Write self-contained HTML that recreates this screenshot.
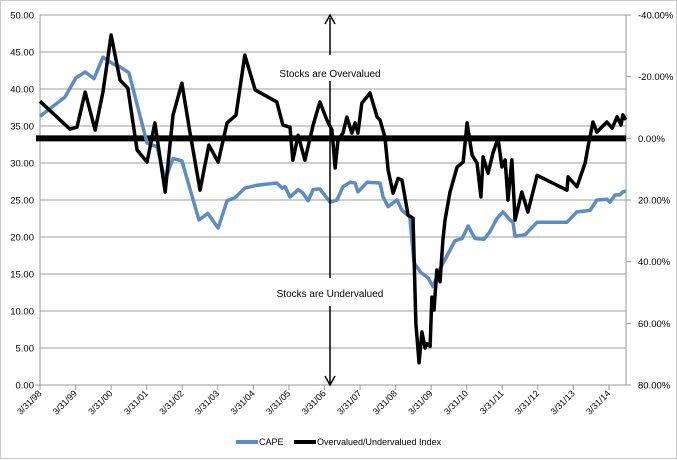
<!DOCTYPE html>
<html><head><meta charset="utf-8"><style>
body{margin:0;background:#fff;}
svg{display:block;font-family:"Liberation Sans",sans-serif;}
</style></head><body>
<svg id="chart" width="677" height="460" viewBox="0 0 677 460" xmlns="http://www.w3.org/2000/svg">
<rect x="0.5" y="0.5" width="676" height="458" fill="#fff" stroke="#c8c8c8" stroke-width="1"/>
<g id="grid"></g>
<g id="axes"></g>
<g id="series"></g>
<g>
<line x1="330" y1="55" x2="330" y2="18" stroke="#000" stroke-width="1.5"/>
<path d="M325,24 L330,15 L335,24" fill="none" stroke="#000" stroke-width="1.5"/>
<text x="330" y="77" font-size="10" text-anchor="middle">Stocks are Overvalued</text>
<line x1="330" y1="81" x2="330" y2="278" stroke="#000" stroke-width="1.5"/>
<text x="330" y="297" font-size="10" text-anchor="middle">Stocks are Undervalued</text>
<line x1="330" y1="306" x2="330" y2="383" stroke="#000" stroke-width="1.5"/>
<path d="M325,376 L330,385 L335,376" fill="none" stroke="#000" stroke-width="1.5"/>
</g>
<g>
<line x1="236" y1="442" x2="258" y2="442" stroke="#5b8cc4" stroke-width="4"/>
<text x="259" y="445" font-size="9">CAPE</text>
<line x1="294" y1="442" x2="316" y2="442" stroke="#000" stroke-width="4"/>
<text x="317" y="445" font-size="9">Overvalued/Undervalued Index</text>
</g>
</svg>
<script>
const capeDates=[1998.25,1998.95,1999.26,1999.52,1999.77,2000.02,2000.30,2000.50,2000.75,2001.26,2001.54,2001.77,2001.99,2002.24,2002.72,2002.97,2003.26,2003.51,2003.73,2004.01,2004.35,2004.91,2005.06,2005.14,2005.28,2005.51,2005.65,2005.79,2005.93,2006.12,2006.41,2006.60,2006.77,2006.97,2007.11,2007.19,2007.45,2007.81,2007.90,2008.04,2008.29,2008.43,2008.65,2008.71,2008.77,2008.96,2009.16,2009.30,2009.50,2009.70,2009.92,2010.12,2010.29,2010.48,2010.74,2010.90,2011.10,2011.27,2011.47,2011.55,2011.61,2011.89,2012.23,2013.07,2013.35,2013.72,2013.91,2014.19,2014.28,2014.42,2014.56,2014.64,2014.73];
const capeValues=[36.3,38.9,41.5,42.3,41.4,44.3,43.4,43.0,42.2,32.7,32.2,27.7,30.6,30.3,22.3,23.2,21.2,24.9,25.3,26.6,27.0,27.3,26.6,26.8,25.4,26.4,25.9,24.9,26.4,26.5,24.7,25.0,26.8,27.4,27.3,26.1,27.4,27.3,25.4,24.1,25.0,23.6,22.7,19.5,16.5,15.2,14.5,13.3,15.7,17.5,19.5,19.8,21.5,19.8,19.7,20.7,22.5,23.4,22.3,22.0,20.1,20.3,22.0,22.0,23.4,23.6,25.0,25.1,24.7,25.7,25.7,26.1,26.2];
const indexDates=[1998.25,1999.09,1999.29,1999.52,1999.80,2000.02,2000.25,2000.50,2000.72,2000.98,2001.26,2001.48,2001.77,2001.99,2002.24,2002.47,2002.75,2003.00,2003.26,2003.51,2003.76,2004.01,2004.30,2004.91,2005.08,2005.28,2005.36,2005.51,2005.70,2005.93,2006.12,2006.32,2006.46,2006.55,2006.63,2006.77,2006.88,2007.02,2007.11,2007.19,2007.30,2007.53,2007.73,2007.81,2007.95,2008.04,2008.18,2008.32,2008.43,2008.60,2008.74,2008.82,2008.91,2008.99,2009.08,2009.13,2009.22,2009.27,2009.33,2009.41,2009.50,2009.58,2009.64,2009.78,2009.98,2010.15,2010.26,2010.40,2010.54,2010.65,2010.71,2010.85,2010.99,2011.13,2011.24,2011.33,2011.41,2011.52,2011.61,2011.80,2011.97,2012.23,2013.07,2013.10,2013.35,2013.58,2013.66,2013.80,2013.91,2014.19,2014.34,2014.48,2014.59,2014.64,2014.73];
const indexValues=[-12,-3,-3.6,-15,-2.7,-15,-33.5,-18.9,-16.3,3.8,7.7,-5,17.4,-7.5,-17.9,-1.7,16.8,2.2,7.7,-5,-7.5,-27,-15.7,-11.8,-4.3,-3.6,7.1,-1,7.1,-4.3,-11.8,-5.9,-2.7,9.6,0.5,-1.7,-6.9,-1.7,-5,-1.7,-11.4,-14.7,-6.9,-6,-0.4,10.3,17.8,13,13.6,24.9,25.9,60,72.8,62.8,68,66.6,67.5,51.5,55.7,42.7,46.5,33,26.5,17.4,9.3,7.7,-5,5.4,8,19,6,11.3,4.7,0,9.3,7,20,7,26.5,17.4,23.9,12,16.8,12.5,15.7,8,2.8,-5.3,-2,-5.3,-3.3,-7,-4.3,-7.6,-6];
const leftTicks=[0,5,10,15,20,25,30,35,40,45,50];
const rightTicks=[-40,-20,0,20,40,60,80];
const xTickYears=[1998,1999,2000,2001,2002,2003,2004,2005,2006,2007,2008,2009,2010,2011,2012,2013,2014];

const NS="http://www.w3.org/2000/svg";
const X0=40,X1=626,YT=15,YB=385;
const xs=d=>X0+(d-1998.25)*35.56;
const yL=v=>YB-(v/50)*(YB-YT);
const yR=v=>YT+((v+40)/120)*(YB-YT);
function mk(tag,attrs,parent){const e=document.createElementNS(NS,tag);for(const k in attrs)e.setAttribute(k,attrs[k]);parent.appendChild(e);return e;}
const grid=document.getElementById('grid'),axes=document.getElementById('axes'),series=document.getElementById('series');
leftTicks.forEach(v=>{
  if(v>0){const g=mk('line',{x1:X0,x2:X1,y1:yL(v),y2:yL(v),stroke:'#bdbdbd','stroke-width':1.5},grid);
  
  }
  const t=mk('text',{x:34,y:yL(v)+3.5,'font-size':9.5,'text-anchor':'end'},axes);t.textContent=v.toFixed(2);
  
  
});
rightTicks.forEach(v=>{
  const t=mk('text',{x:638,y:yR(v)+3.5,'font-size':9.5},axes);t.textContent=v.toFixed(2)+'%';
  
  
  mk('line',{x1:X1,x2:X1+5,y1:yR(v),y2:yR(v),stroke:'#999'},axes);
});
mk('line',{x1:X0,x2:X0,y1:YT,y2:YB,stroke:'#999'},axes);
mk('line',{x1:X1,x2:X1,y1:YT,y2:YB,stroke:'#999'},axes);
mk('line',{x1:X0,x2:X1,y1:YB,y2:YB,stroke:'#999'},axes);
xTickYears.forEach(yr=>{
  const x=xs(yr+0.25);
  mk('line',{x1:x,x2:x,y1:YB,y2:YB+5,stroke:'#999'},axes);
  mk('line',{x1:X0-5,x2:X0,y1:yL(0),y2:yL(0),stroke:'#999'},axes);
  const t=mk('text',{x:x+2,y:YB+9,'font-size':9,'text-anchor':'end',transform:`rotate(-45 ${x+2} ${YB+9})`},axes);
  t.textContent='3/31/'+String(yr%100).padStart(2,'0');
  
  
});
const zl=mk('line',{x1:36,x2:X1,y1:yR(0),y2:yR(0),stroke:'#000','stroke-width':6},series);


const cp=mk('polyline',{points:capeDates.map((d,i)=>xs(d)+','+yL(capeValues[i])).join(' '),fill:'none',stroke:'#5b8cc4','stroke-width':3.5,'stroke-linejoin':'round'},series);


const ip=mk('polyline',{points:indexDates.map((d,i)=>xs(d)+','+yR(indexValues[i])).join(' '),fill:'none',stroke:'#000','stroke-width':3.5,'stroke-linejoin':'round'},series);


</script>
</body></html>
